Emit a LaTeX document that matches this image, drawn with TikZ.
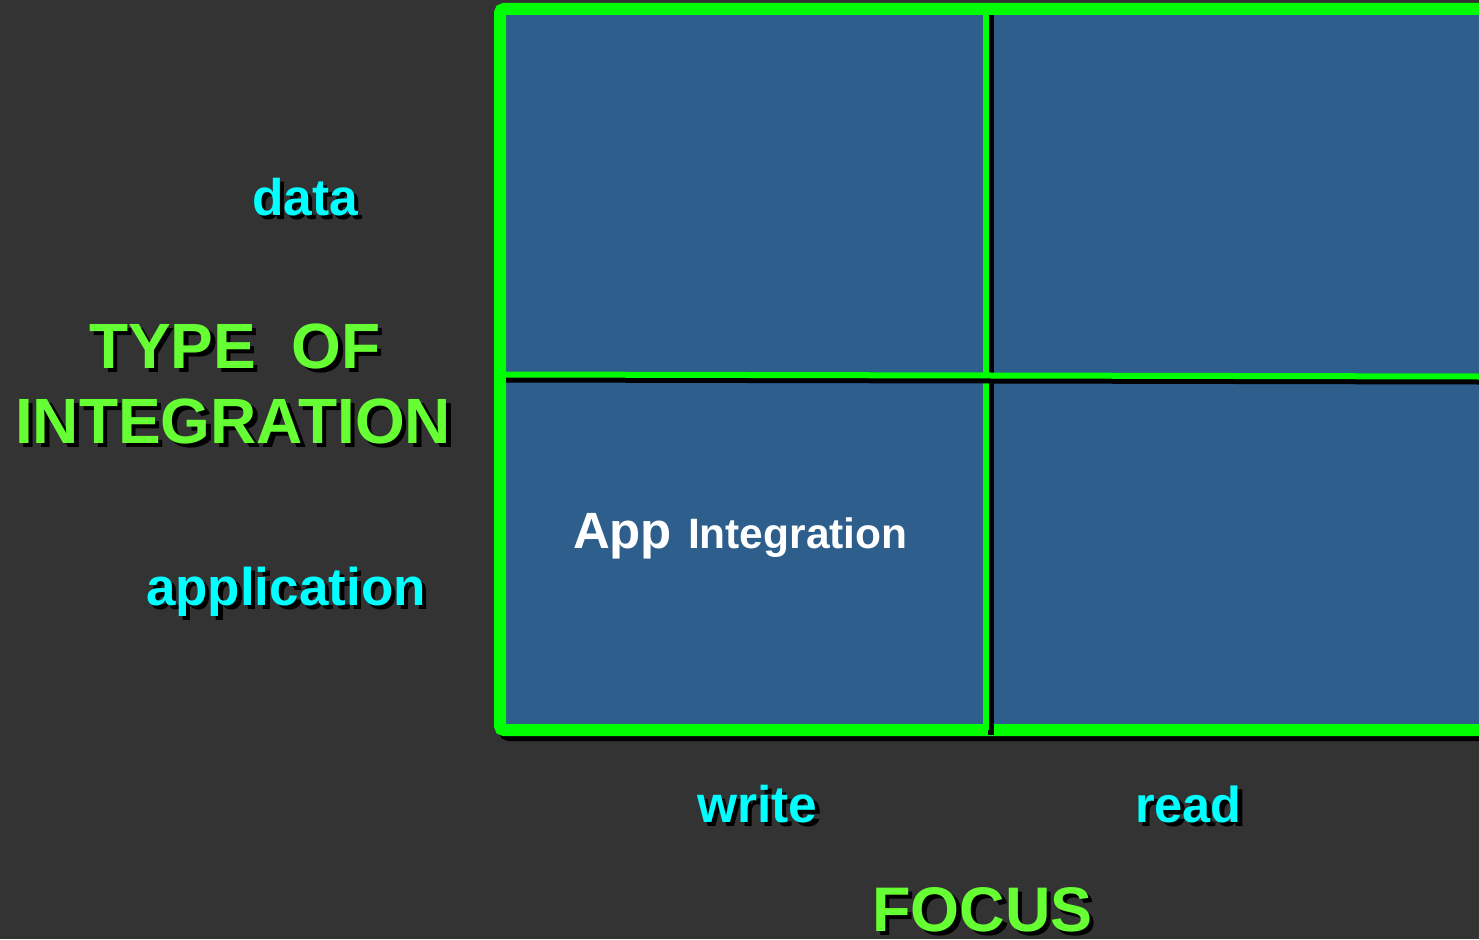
\documentclass[tikz,border=0pt]{standalone}
\usepackage{fontspec}
\setmainfont{Liberation Sans}
\definecolor{bg}{HTML}{333333}
\definecolor{cellblue}{HTML}{2E5E8C}
\definecolor{framegreen}{HTML}{00FF00}
\definecolor{titlegreen}{HTML}{66FF33}
\definecolor{axiscyan}{HTML}{00FFFF}
\tikzset{
  lbl/.style={inner sep=0pt, outer sep=0pt, anchor=base west, font=\bfseries},
  shadowtxt/.style={lbl, text=black},
  framepen/.style={line width=12pt, draw=framegreen, rounded corners=4pt},
  framesh/.style={line width=12pt, draw=black, rounded corners=4pt},
  divpen/.style={line width=6pt, draw=framegreen},
  divsh/.style={line width=6pt, draw=black},
}
\begin{document}
\begin{tikzpicture}[x=1pt,y=-1pt]
\useasboundingbox (0,0) rectangle (1479,939);
\fill[bg] (0,0) rectangle (1479,939);
% frame shadow, fill and frame
\draw[framesh] (505,14) rectangle (1520,735);
\fill[cellblue] (500,9) rectangle (1520,730);
\draw[framepen] (500,9) rectangle (1520,730);
% vertical divider
\coordinate (vt) at (986,15);
\coordinate (vb) at (986,730);
\draw[divsh] ([xshift=5pt]vt) -- ([xshift=5pt,yshift=-5pt]vb);
\draw[divpen] (vt) -- (vb);
% horizontal divider
\coordinate (hl) at (506,374.5);
\coordinate (hr) at (1479,376.5);
\draw[divsh] ([yshift=-5pt]hl) -- ([yshift=-5pt]hr);
\draw[divpen] (hl) -- (hr);
% labels with shadows
\node[shadowtxt, font=\bfseries\fontsize{51.5}{51.5}\selectfont] (data-sh) at (256.5,219.5) {data};
\node[lbl, text=axiscyan, font=\bfseries\fontsize{51.5}{51.5}\selectfont] (data) at (252,215) {data};
\node[shadowtxt, font=\bfseries\fontsize{53}{53}\selectfont] (app-sh) at (150.5,609.5) {application};
\node[lbl, text=axiscyan, font=\bfseries\fontsize{53}{53}\selectfont] (app) at (146,605) {application};
\node[shadowtxt, font=\bfseries\fontsize{64}{64}\selectfont] (type-sh) at (93.5,372.5) {TYPE\ \ OF};
\node[lbl, text=titlegreen, font=\bfseries\fontsize{64}{64}\selectfont] (type) at (89,368) {TYPE\ \ OF};
\node[shadowtxt, font=\bfseries\fontsize{64}{64}\selectfont] (integ-sh) at (19.5,447.5) {INTEGRATION};
\node[lbl, text=titlegreen, font=\bfseries\fontsize{64}{64}\selectfont] (integ) at (15,443) {INTEGRATION};
\node[shadowtxt, font=\bfseries\fontsize{51.5}{51.5}\selectfont] (write-sh) at (701.5,826.5) {write};
\node[lbl, text=axiscyan, font=\bfseries\fontsize{51.5}{51.5}\selectfont] (write) at (697,822) {write};
\node[shadowtxt, font=\bfseries\fontsize{50.5}{50.5}\selectfont] (read-sh) at (1139.5,826.5) {read};
\node[lbl, text=axiscyan, font=\bfseries\fontsize{50.5}{50.5}\selectfont] (read) at (1135,822) {read};
\node[shadowtxt, font=\bfseries\fontsize{63}{63}\selectfont] (focus-sh) at (876.5,935.5) {FOCUS};
\node[lbl, text=titlegreen, font=\bfseries\fontsize{63}{63}\selectfont] (focus) at (872,931) {FOCUS};
% cell text
\node[lbl, text=white, font=\bfseries\fontsize{51}{51}\selectfont] (appword) at (573,548) {App};
\node[lbl, text=white, font=\bfseries\fontsize{42.5}{42.5}\selectfont] (integword) at (688,548) {Integration};
\end{tikzpicture}
\end{document}
